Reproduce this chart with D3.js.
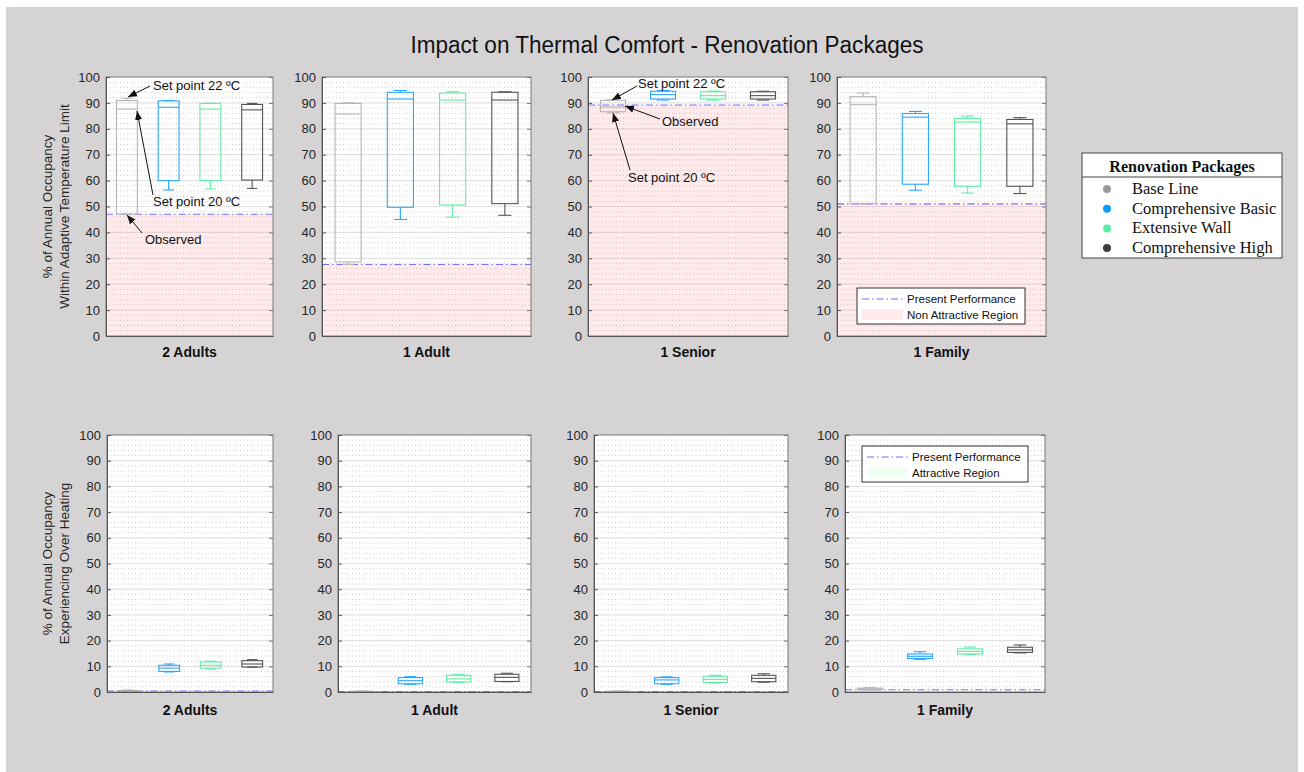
<!DOCTYPE html>
<html>
<head>
<meta charset="utf-8">
<script src="https://cdn.jsdelivr.net/npm/d3@7"></script>
<style>
  html, body { margin: 0; padding: 0; background: #ffffff; }
  svg { display: block; }
  text { font-family: "Liberation Sans", Arial, sans-serif; }
</style>
</head>
<body>
<svg id="chart" width="1304" height="772"></svg>
<script>
// ---------------- DATA ----------------
const categories = ["2 Adults", "1 Adult", "1 Senior", "1 Family"];
const packages = ["Base Line", "Comprehensive Basic", "Extensive Wall", "Comprehensive High"];
const yTicks = [0, 10, 20, 30, 40, 50, 60, 70, 80, 90, 100];

// Top row: % of annual occupancy within adaptive temperature limit
// rows = categories, columns = packages
const comfortLow    = [[47.0, 56.4, 56.8, 57.0], [27.7, 45.0, 45.9, 46.6], [86.2, 91.1, 91.1, 91.1], [51.0, 56.3, 55.2, 55.0]];
const comfortQ1     = [[47.1, 60.0, 60.0, 60.2], [28.6, 49.7, 50.6, 51.1], [86.6, 91.5, 91.5, 91.5], [51.2, 58.6, 57.8, 57.8]];
const comfortMedian = [[87.6, 88.3, 87.6, 87.3], [85.7, 91.5, 91.1, 91.1], [88.4, 93.2, 92.8, 92.8], [89.3, 84.5, 82.6, 81.9]];
const comfortQ3     = [[90.9, 90.8, 89.8, 89.4], [89.8, 94.1, 93.8, 94.1], [91.0, 94.5, 94.3, 94.3], [92.4, 85.9, 84.0, 83.6]];
const comfortHigh   = [[91.8, 90.9, 89.9, 89.8], [90.0, 94.8, 94.3, 94.3], [91.2, 94.8, 94.6, 94.5], [93.8, 86.7, 84.9, 84.3]];
const comfortPresent = [47.0, 27.6, 89.2, 51.0];

// Bottom row: % of annual occupancy experiencing over heating
const heatLow    = [[0.1, 7.8, 8.9, 9.7], [0.0, 3.0, 3.7, 4.0], [0.0, 3.0, 3.5, 3.8], [0.8, 12.7, 14.6, 15.2]];
const heatQ1     = [[0.2, 8.0, 9.3, 9.7], [0.1, 3.2, 3.9, 4.1], [0.1, 3.2, 3.7, 4.0], [0.9, 13.0, 14.8, 15.4]];
const heatMedian = [[0.4, 9.3, 10.4, 10.9], [0.2, 4.4, 5.1, 5.7], [0.2, 4.7, 4.9, 5.3], [1.2, 13.9, 15.8, 16.4]];
const heatQ3     = [[0.6, 10.4, 11.7, 12.2], [0.3, 5.6, 6.5, 6.9], [0.3, 5.6, 6.1, 6.5], [1.5, 14.8, 16.8, 17.4]];
const heatHigh   = [[0.8, 10.9, 12.0, 12.6], [0.4, 6.0, 6.9, 7.3], [0.4, 5.9, 6.5, 7.1], [1.7, 15.7, 17.5, 18.3]];
const heatPresent = [0.4, 0.15, 0.15, 0.9];

// ---------------- STYLE / LAYOUT ----------------
const boxColors = ["#b5b5b5", "#2aa6ff", "#62eca6", "#555555"];
const dotColors = ["#999999", "#0a9bff", "#55f0a5", "#3c3c3c"];
const presentColor = "#7373ff";
const presentDash = "7,3,1.5,3";
const textColor = "#262626";

const topRow = { y0: 77, y1: 336, x0: [106, 322, 588, 837], x1: [273, 531, 788, 1046], labelY: 357 };
const botRow = { y0: 435, y1: 692, x0: [107, 338, 594, 845], x1: [273, 531, 788, 1045], labelY: 715 };

const svg = d3.select("#chart");

// background
svg.append("rect").attr("x", 6).attr("y", 7).attr("width", 1292).attr("height", 765).attr("fill", "#d5d3d4");

// title
svg.append("text")
  .attr("x", 667).attr("y", 53)
  .attr("text-anchor", "middle")
  .attr("textLength", 513).attr("lengthAdjust", "spacingAndGlyphs")
  .style("font-family", "'Liberation Sans', Arial, sans-serif")
  .style("font-size", "23px")
  .attr("fill", "#111")
  .text("Impact on Thermal Comfort - Renovation Packages");

function drawRow(row, low, q1, med, q3, high, present, regionColor, regionOpacity, ylabelLines) {
  categories.forEach((cat, ci) => {
    const x0 = row.x0[ci], x1 = row.x1[ci];
    const y = d3.scaleLinear().domain([0, 100]).range([row.y1, row.y0]);
    const x = d3.scaleBand().domain(packages).range([x0, x1]);
    const g = svg.append("g");

    // plot background
    g.append("rect").attr("x", x0).attr("y", row.y0).attr("width", x1 - x0).attr("height", row.y1 - row.y0).attr("fill", "#ffffff");

    // minor grid (dotted)
    const minor = d3.range(0, 101, 2).filter(v => v % 10 !== 0);
    g.selectAll(".minor").data(minor).enter().append("line")
      .attr("x1", x0).attr("x2", x1)
      .attr("y1", d => y(d)).attr("y2", d => y(d))
      .attr("stroke", "#bdbdbd").attr("stroke-width", 0.8)
      .attr("stroke-dasharray", "1,2.5");
    // major grid
    g.selectAll(".major").data(yTicks.slice(1, -1)).enter().append("line")
      .attr("x1", x0).attr("x2", x1)
      .attr("y1", d => y(d)).attr("y2", d => y(d))
      .attr("stroke", "#e2e2e2").attr("stroke-width", 1.2);

    // region (0..present)
    g.append("rect")
      .attr("x", x0).attr("width", x1 - x0)
      .attr("y", y(present[ci])).attr("height", y(0) - y(present[ci]))
      .attr("fill", regionColor).attr("fill-opacity", regionOpacity);

    // present performance line
    g.append("line")
      .attr("x1", x0).attr("x2", x1)
      .attr("y1", y(present[ci])).attr("y2", y(present[ci]))
      .attr("stroke", presentColor).attr("stroke-width", 1.1)
      .attr("stroke-dasharray", presentDash);

    // boxes
    packages.forEach((p, pi) => {
      const cx = x(p) + x.bandwidth() / 2;
      const bw = x.bandwidth() * 0.5;
      const cw = bw * 0.5;
      const col = boxColors[pi];
      const bg = g.append("g").attr("stroke", col).attr("fill", "none").attr("stroke-width", 1.1);
      // whiskers
      bg.append("line").attr("x1", cx).attr("x2", cx).attr("y1", y(q3[ci][pi])).attr("y2", y(high[ci][pi]));
      bg.append("line").attr("x1", cx).attr("x2", cx).attr("y1", y(q1[ci][pi])).attr("y2", y(low[ci][pi]));
      bg.append("line").attr("x1", cx - cw / 2).attr("x2", cx + cw / 2).attr("y1", y(high[ci][pi])).attr("y2", y(high[ci][pi]));
      bg.append("line").attr("x1", cx - cw / 2).attr("x2", cx + cw / 2).attr("y1", y(low[ci][pi])).attr("y2", y(low[ci][pi]));
      // box
      bg.append("rect")
        .attr("x", cx - bw / 2).attr("width", bw)
        .attr("y", y(q3[ci][pi])).attr("height", Math.max(0.5, y(q1[ci][pi]) - y(q3[ci][pi])));
      // median
      bg.append("line").attr("x1", cx - bw / 2).attr("x2", cx + bw / 2).attr("y1", y(med[ci][pi])).attr("y2", y(med[ci][pi]));
    });

    // frame
    g.append("rect").attr("x", x0).attr("y", row.y0).attr("width", x1 - x0).attr("height", row.y1 - row.y0)
      .attr("fill", "none").attr("stroke", "#7a7a7a").attr("stroke-width", 1);

    // axes
    const yAxis = d3.axisLeft(y).tickValues(yTicks).tickSize(-4).tickPadding(6).tickFormat(d3.format("d"));
    const ax = g.append("g").attr("transform", `translate(${x0},0)`).call(yAxis);
    ax.select(".domain").attr("stroke", "#555");
    ax.selectAll(".tick line").attr("stroke", "#555");
    ax.selectAll(".tick text").attr("fill", textColor).style("font-size", "13px").style("font-family", "'Liberation Sans', Arial, sans-serif");
    const yAxisR = d3.axisRight(y).tickValues(yTicks).tickSize(-4).tickFormat("");
    const axr = g.append("g").attr("transform", `translate(${x1},0)`).call(yAxisR);
    axr.select(".domain").remove();
    axr.selectAll(".tick line").attr("stroke", "#777");
    const xAxis = d3.axisBottom(x).tickSize(0).tickFormat("");
    g.append("g").attr("transform", `translate(0,${row.y1})`).call(xAxis).select(".domain").attr("stroke", "#555");

    // category label
    g.append("text")
      .attr("x", (x0 + x1) / 2).attr("y", row.labelY)
      .attr("text-anchor", "middle")
      .style("font-size", "14px").style("font-weight", "bold")
      .attr("fill", "#111")
      .text(cat);
  });

  // y label
  const cy = (row.y0 + row.y1) / 2;
  ylabelLines.forEach((t, i) => {
    svg.append("text")
      .attr("transform", `translate(${52 + i * 17},${cy}) rotate(-90)`)
      .attr("text-anchor", "middle")
      .style("font-size", "13.5px")
      .attr("fill", textColor)
      .text(t);
  });
}

drawRow(topRow, comfortLow, comfortQ1, comfortMedian, comfortQ3, comfortHigh, comfortPresent,
  "#ff8080", 0.16, ["% of Annual Occupancy", "Within Adaptive Temperature Limit"]);
drawRow(botRow, heatLow, heatQ1, heatMedian, heatQ3, heatHigh, heatPresent,
  "#80ff80", 0.12, ["% of Annual Occupancy", "Experiencing Over Heating"]);

// ---------------- ANNOTATIONS ----------------
const defs = svg.append("defs");
defs.append("marker").attr("id", "arrow").attr("viewBox", "0 0 10 10")
  .attr("refX", 10).attr("refY", 5).attr("markerWidth", 9).attr("markerHeight", 9)
  .attr("markerUnits", "userSpaceOnUse")
  .attr("orient", "auto")
  .append("path").attr("d", "M0,1 L10,5 L0,9 z").attr("fill", "#111");

const annotations = [
  { text: "Set point 22 ºC", tx: 153, ty: 90, ax1: 150, ay1: 86, ax2: 128, ay2: 97 },
  { text: "Set point 20 ºC", tx: 153, ty: 206, ax1: 153, ay1: 195, ax2: 137, ay2: 111 },
  { text: "Observed", tx: 145, ty: 244, ax1: 142, ay1: 233, ax2: 127, ay2: 215 },
  { text: "Set point 22 ºC", tx: 638, ty: 88, ax1: 637, ay1: 86, ax2: 612, ay2: 100 },
  { text: "Observed", tx: 662, ty: 126, ax1: 660, ay1: 119, ax2: 625, ay2: 106 },
  { text: "Set point 20 ºC", tx: 628, ty: 182, ax1: 630, ay1: 170, ax2: 613, ay2: 113 }
];
annotations.forEach(a => {
  svg.append("line").attr("x1", a.ax1).attr("y1", a.ay1).attr("x2", a.ax2).attr("y2", a.ay2)
    .attr("stroke", "#111").attr("stroke-width", 1).attr("marker-end", "url(#arrow)");
  svg.append("text").attr("x", a.tx).attr("y", a.ty).style("font-size", "13px").attr("fill", "#111").text(a.text);
});

// ---------------- INNER LEGENDS ----------------
function innerLegend(x, y, w, h, regionColor, regionOpacity, label2) {
  const g = svg.append("g");
  g.append("rect").attr("x", x).attr("y", y).attr("width", w).attr("height", h)
    .attr("fill", "#fff").attr("stroke", "#333").attr("stroke-width", 1);
  g.append("line").attr("x1", x + 5).attr("x2", x + 46).attr("y1", y + 11).attr("y2", y + 11)
    .attr("stroke", presentColor).attr("stroke-width", 1.1).attr("stroke-dasharray", presentDash);
  g.append("text").attr("x", x + 50).attr("y", y + 15).style("font-size", "11.5px").attr("fill", "#111").text("Present Performance");
  g.append("rect").attr("x", x + 5).attr("y", y + 21).attr("width", 41).attr("height", 11)
    .attr("fill", regionColor).attr("fill-opacity", regionOpacity);
  g.append("text").attr("x", x + 50).attr("y", y + 31).style("font-size", "11.5px").attr("fill", "#111").text(label2);
}
innerLegend(857, 288, 168, 36, "#ff8080", 0.16, "Non Attractive Region");
innerLegend(862, 446, 166, 36, "#80ff80", 0.12, "Attractive Region");

// ---------------- MAIN LEGEND ----------------
const lg = svg.append("g");
lg.append("rect").attr("x", 1082).attr("y", 153).attr("width", 200).attr("height", 105)
  .attr("fill", "#fff").attr("stroke", "#444").attr("stroke-width", 1);
lg.append("line").attr("x1", 1082).attr("x2", 1282).attr("y1", 177).attr("y2", 177).attr("stroke", "#444");
lg.append("text").attr("x", 1182).attr("y", 172).attr("text-anchor", "middle")
  .style("font-family", "'Liberation Serif', 'Times New Roman', serif").style("font-size", "16px").style("font-weight", "bold")
  .attr("fill", "#111").text("Renovation Packages");
packages.forEach((p, i) => {
  const yy = 189 + i * 19.7;
  lg.append("circle").attr("cx", 1107).attr("cy", yy).attr("r", 4).attr("fill", dotColors[i]);
  lg.append("text").attr("x", 1132).attr("y", yy + 5)
    .style("font-family", "'Liberation Serif', 'Times New Roman', serif").style("font-size", "16.5px")
    .attr("fill", "#111").text(p);
});
</script>
</body>
</html>
